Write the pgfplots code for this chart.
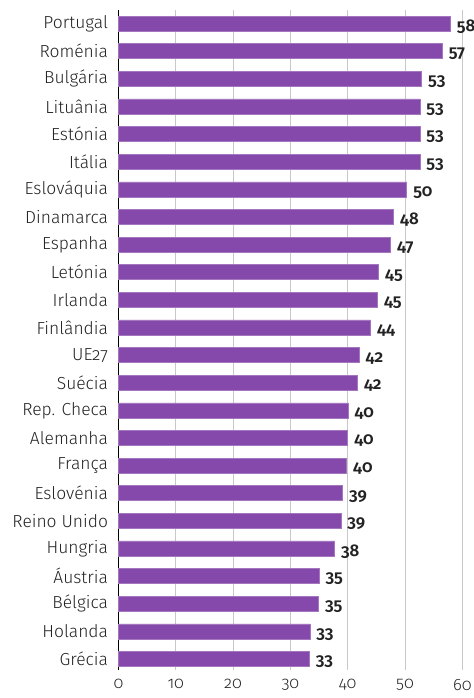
\documentclass[border=0pt]{standalone}
\usepackage{fontspec}
\setmainfont{Fira Sans}[Numbers=OldStyle, UprightFont={* Light}, BoldFont={* SemiBold}]
\usepackage{pgfplots}
\usepackage{pgfplotstable}
\pgfplotsset{compat=1.18}
\definecolor{barpurple}{RGB}{133,73,171}
\definecolor{gridgray}{RGB}{200,200,200}
\definecolor{txt}{RGB}{35,35,35}
\pgfplotstableread[col sep=comma]{
idx,name,val,lab
0,Portugal,57.9,58
1,Roménia,56.5,57
2,Bulgária,52.9,53
3,Lituânia,52.6,53
4,Estónia,52.6,53
5,Itália,52.6,53
6,Eslováquia,50.3,50
7,Dinamarca,48.0,48
8,Espanha,47.5,47
9,Letónia,45.4,45
10,Irlanda,45.2,45
11,Finlândia,44.0,44
12,UE27,42.0,42
13,Suécia,41.7,42
14,Rep. Checa,40.05,40
15,Alemanha,40.0,40
16,França,39.8,40
17,Eslovénia,39.1,39
18,Reino Unido,38.8,39
19,Hungria,37.7,38
20,Áustria,35.0,35
21,Bélgica,34.9,35
22,Holanda,33.4,33
23,Grécia,33.3,33
}\data
\begin{document}
\begin{tikzpicture}
\begin{axis}[
  scale only axis,
  width=343.8bp, height=660bp,
  xbar, bar width=15bp,
  y dir=reverse,
  xmin=0, xmax=60, ymin=-0.49, ymax=23.4,
  xtick={0,10,...,60},
  ytick={0,...,23},
  yticklabels from table={\data}{name},
  axis y line*=left,
  axis x line*=bottom,
  x axis line style={draw=none},
  y axis line style={draw=black, line width=0.9bp},
  major tick length=0pt,
  xmajorgrids, grid style={gridgray, line width=0.8bp},
  /pgf/number format/assume math mode=true,
  tick label style={font=\fontsize{16.5}{19}\selectfont, text=txt},
  yticklabel style={font=\fontsize{17.5}{20}\selectfont, xshift=-7bp},
  xticklabel style={yshift=-6bp},
  point meta=explicit symbolic,
  nodes near coords,
  nodes near coords style={font=\fontsize{17}{20}\selectfont\bfseries, text=txt, anchor=west, xshift=3bp, yshift=-3bp},
  clip=false,
]
\addplot[fill=barpurple, draw=barpurple!75!white, line width=0.5bp] table[y=idx, x=val, meta=lab] {\data};
\end{axis}
\pgfresetboundingbox
\path (current axis.south west) ++(-118.5bp,-28bp) coordinate (bbA);
\path (current axis.north east) ++(11.7bp,10bp) coordinate (bbB);
\useasboundingbox (bbA) rectangle (bbB);
\end{tikzpicture}
\end{document}
